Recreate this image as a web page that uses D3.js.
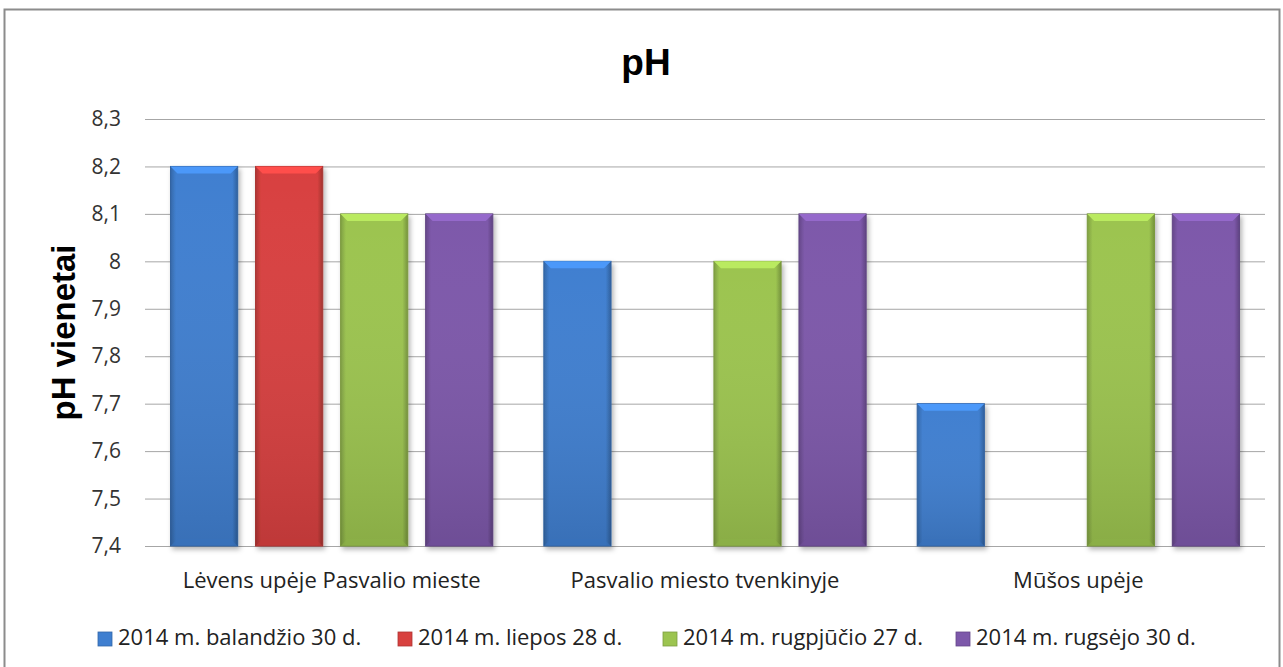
<!DOCTYPE html>
<html lang="lt">
<head>
  <meta charset="UTF-8">
  <title>pH</title>
  <script src="https://d3js.org/d3.v7.min.js"></script>
  <style>
    body { margin: 0; background: #fff; font-family: "Open Sans", sans-serif; }
    svg { display: block; }
  </style>
</head>
<body>
  <svg width="1283" height="667"></svg>

  <script>
    // data
    const categories = ["Lėvens upėje Pasvalio mieste", "Pasvalio miesto tvenkinyje", "Mūšos upėje"];
    const seriesNames = ["2014 m. balandžio 30 d.", "2014 m. liepos 28 d.", "2014 m. rugpjūčio 27 d.", "2014 m. rugsėjo 30 d."];
    const balandzio = [8.2, 8.0, 7.7];
    const liepos = [8.2, null, null];
    const rugpjucio = [8.1, 8.0, 8.1];
    const rugsejo = [8.1, 8.1, 8.1];
    const yTicks = [7.4, 7.5, 7.6, 7.7, 7.8, 7.9, 8.0, 8.1, 8.2, 8.3];
    const colors = ["#3f7fd0", "#d8413f", "#9cc450", "#7d58aa"];

    const series = [balandzio, liepos, rugpjucio, rugsejo];

    const svg = d3.select("svg");
    const plotLeft = 145, plotRight = 1265, plotTop = 119, plotBottom = 546;

    // outer frame
    svg.append("rect")
      .attr("x", 4.5).attr("y", 9.5)
      .attr("width", 1275).attr("height", 680)
      .attr("fill", "#fff").attr("stroke", "#8c8c8c").attr("stroke-width", 2);

    const defs = svg.append("defs");
    const f = defs.append("filter").attr("id", "shadow")
      .attr("x", "-20%").attr("y", "-10%").attr("width", "140%").attr("height", "130%");
    f.append("feDropShadow").attr("dx", 2).attr("dy", 3).attr("stdDeviation", 2.5)
      .attr("flood-color", "#000").attr("flood-opacity", 0.3);

    colors.forEach((c, i) => {
      const g = defs.append("linearGradient").attr("id", "grad" + i)
        .attr("x1", 0).attr("x2", 1).attr("y1", 0).attr("y2", 0);
      g.append("stop").attr("offset", "0%").attr("stop-color", d3.color(c).darker(0.6));
      g.append("stop").attr("offset", "8%").attr("stop-color", c);
      g.append("stop").attr("offset", "92%").attr("stop-color", c);
      g.append("stop").attr("offset", "100%").attr("stop-color", d3.color(c).darker(0.8));
      const v = defs.append("linearGradient").attr("id", "vgrad" + i)
        .attr("x1", 0).attr("x2", 0).attr("y1", 0).attr("y2", 1);
      v.append("stop").attr("offset", "0%").attr("stop-color", "#fff").attr("stop-opacity", 0.0);
      v.append("stop").attr("offset", "100%").attr("stop-color", "#000").attr("stop-opacity", 0.12);
    });

    const y = d3.scaleLinear().domain([7.4, 8.3]).range([plotBottom, plotTop]);
    const x0 = d3.scaleBand().domain(categories).range([plotLeft, plotRight]).padding(0);
    const x1 = d3.scaleBand().domain(d3.range(series.length))
      .range([0, x0.bandwidth()]).paddingInner(0.21).paddingOuter(0.3);

    const fmt = d => d3.format(".1f")(d).replace(".0", "").replace(".", ",");

    // gridlines
    svg.append("g")
      .attr("transform", `translate(${plotLeft},0)`)
      .call(d3.axisLeft(y).tickValues(yTicks).tickSize(-(plotRight - plotLeft)).tickFormat(""))
      .call(g => g.select(".domain").remove())
      .call(g => g.selectAll("line").attr("stroke", "#a6a6a6").attr("stroke-width", 1));

    // tick labels
    svg.append("g")
      .attr("transform", `translate(${plotLeft},0)`)
      .call(d3.axisLeft(y).tickValues(yTicks).tickSize(0).tickPadding(24).tickFormat(fmt))
      .call(g => g.select(".domain").remove())
      .call(g => g.selectAll("text").attr("font-size", 21).attr("fill", "#333")
        .attr("font-family", "'Open Sans', sans-serif"));

    // bars
    const bw = x1.bandwidth();
    categories.forEach((cat, ci) => {
      series.forEach((s, si) => {
        const v = s[ci];
        if (v == null) return;
        const bx = x0(cat) + x1(si);
        const by = y(v);
        const bh = y(7.4) - by;
        const c = colors[si];
        const g = svg.append("g");
        g.append("rect").attr("x", bx).attr("y", by).attr("width", bw).attr("height", bh)
          .attr("fill", `url(#grad${si})`).attr("filter", "url(#shadow)")
          .attr("stroke", d3.color(c).darker(0.7)).attr("stroke-width", 1);
        g.append("rect").attr("x", bx).attr("y", by).attr("width", bw).attr("height", bh)
          .attr("fill", `url(#vgrad${si})`);
        // bevels
        const b = 7;
        g.append("path")
          .attr("d", `M${bx},${by} L${bx + bw},${by} L${bx + bw - b},${by + b} L${bx + b},${by + b} Z`)
          .attr("fill", d3.color(c).brighter(0.5));
        g.append("path")
          .attr("d", `M${bx},${by + bh} L${bx + bw},${by + bh} L${bx + bw - b},${by + bh - b} L${bx + b},${by + bh - b} Z`)
          .attr("fill", d3.color(c).darker(0.3)).attr("opacity", 0.6);
      });
    });

    // category labels
    svg.append("g").selectAll("text").data(categories).join("text")
      .attr("x", d => x0(d) + x0.bandwidth() / 2)
      .attr("y", 588)
      .attr("text-anchor", "middle")
      .attr("font-size", 22).attr("fill", "#222")
      .text(d => d);

    // title
    svg.append("text").attr("x", 646).attr("y", 75).attr("text-anchor", "middle")
      .attr("font-size", 37).attr("font-weight", "bold").attr("fill", "#000")
      .attr("font-family", "'Liberation Sans', Arial, sans-serif")
      .text("pH");

    svg.append("text")
      .attr("transform", `translate(75,${(plotTop + plotBottom) / 2}) rotate(-90)`)
      .attr("text-anchor", "middle")
      .attr("font-size", 33).attr("font-weight", "bold").attr("fill", "#000")
      .attr("font-family", "'Liberation Sans', Arial, sans-serif")
      .text("pH vienetai");

    // legend
    const legendX = [98, 398, 663, 956];
    const lg = svg.append("g").selectAll("g").data(seriesNames).join("g")
      .attr("transform", (d, i) => `translate(${legendX[i]},645)`);
    lg.append("rect").attr("x", 0).attr("y", -13).attr("width", 14).attr("height", 14)
      .attr("fill", (d, i) => colors[i])
      .attr("stroke", (d, i) => d3.color(colors[i]).darker(0.6)).attr("stroke-width", 0.8);
    lg.append("text").attr("x", 20).attr("y", 0)
      .attr("font-size", 22).attr("fill", "#222")
      .text(d => d);
  </script>
</body>
</html>
